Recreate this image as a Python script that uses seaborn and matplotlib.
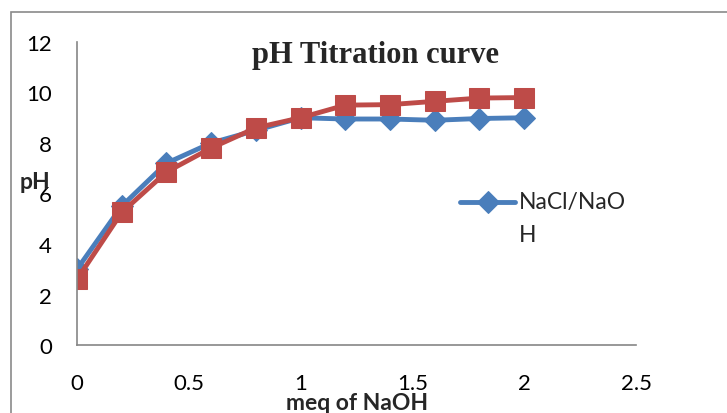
import matplotlib
matplotlib.use("Agg")
import matplotlib.pyplot as plt
import seaborn as sns
import numpy as np
import pandas as pd
from matplotlib.patches import Rectangle
from matplotlib.legend_handler import HandlerLine2D

# Data
meq_naoh = [0, 0.2, 0.4, 0.6, 0.8, 1.0, 1.2, 1.4, 1.6, 1.8, 2.0]
ph_nacl_naoh = [3.0, 5.5, 7.2, 8.0, 8.5, 9.0, 8.95, 8.95, 8.9, 8.97, 9.0]
ph_second = [2.6, 5.25, 6.85, 7.8, 8.6, 9.0, 9.5, 9.52, 9.65, 9.78, 9.8]
series_label = "NaCl/NaO\nH"
title_text = "pH Titration curve"
x_label = "meq of NaOH"
y_label = "pH"
x_ticks = [0, 0.5, 1, 1.5, 2, 2.5]
x_tick_labels = ["0", "0.5", "1", "1.5", "2", "2.5"]
y_ticks = [0, 2, 4, 6, 8, 10, 12]

sns.set_style("white")
plt.rcParams['font.family'] = ['Lato', 'DejaVu Sans']

df_blue = pd.DataFrame({"x": meq_naoh, "y": ph_nacl_naoh})
df_red = pd.DataFrame({"x": meq_naoh, "y": ph_second})

fig = plt.figure(figsize=(7.27, 4.14), dpi=100)
ax = fig.add_axes([77/727, 1-346/414, (636-77)/727, (346-43)/414])

blue = "#4A7EBB"
red = "#BE4B48"

sns.lineplot(data=df_blue, x="x", y="y", ax=ax, color=blue, linewidth=3.5,
             marker="D", markersize=11, markeredgecolor=blue, label=series_label)
sns.lineplot(data=df_red, x="x", y="y", ax=ax, color=red, linewidth=3.5,
             marker="s", markersize=14, markeredgecolor=red, legend=False)

ax.set_xlim(0, 2.5)
ax.set_ylim(0, 12)
ax.set_xticks(x_ticks)
ax.set_xticklabels(x_tick_labels)
ax.set_yticks(y_ticks)

for s in ["top", "right"]:
    ax.spines[s].set_visible(False)
for s in ["left", "bottom"]:
    ax.spines[s].set_color("#868686")
    ax.spines[s].set_linewidth(1.2)
ax.tick_params(axis="both", direction="out", length=6, width=1.2, color="#868686",
               labelsize=16, labelcolor="black")
ax.tick_params(axis="x", pad=14)
ax.tick_params(axis="y", pad=12)
ax.grid(False)

ax.set_xlabel("")
ax.set_ylabel("")
fig.text(357/727, 1-404/414, x_label, ha="center", va="center",
         fontsize=16.5, fontweight="bold")
fig.text(35/727, 1-183/414, y_label, ha="center", va="center",
         fontsize=16.5, fontweight="bold")
fig.text(375/727, 1-55/414, title_text, ha="center", va="center",
         fontsize=22, fontweight="bold", family="Liberation Serif")


class RaisedLineHandler(HandlerLine2D):
    """Place the legend handle level with the first text line."""
    def create_artists(self, legend, orig_handle, xdescent, ydescent,
                       width, height, fontsize, trans):
        arts = super().create_artists(legend, orig_handle, xdescent, ydescent,
                                      width, height, fontsize, trans)
        for a in arts:
            a.set_ydata(np.asarray(a.get_ydata()) + 12.2)
        return arts


handles, labels = ax.get_legend_handles_labels()
leg = ax.legend(handles[:1], labels[:1], loc="center left",
                bbox_to_anchor=((460-77)/559, 1-(219-43)/303), frameon=False, fontsize=16.5,
                handlelength=2.4, handletextpad=0.15, borderaxespad=0, borderpad=0,
                handler_map={handles[0]: RaisedLineHandler()})
for t in leg.get_texts():
    t.set_linespacing(1.75)

fig.patches.append(Rectangle((11/727, -0.1), 1.2, 1-13/414+0.1,
                             transform=fig.transFigure, fill=False,
                             edgecolor="#8a8a8a", linewidth=1.2))

fig.savefig("out.png", dpi=100)
